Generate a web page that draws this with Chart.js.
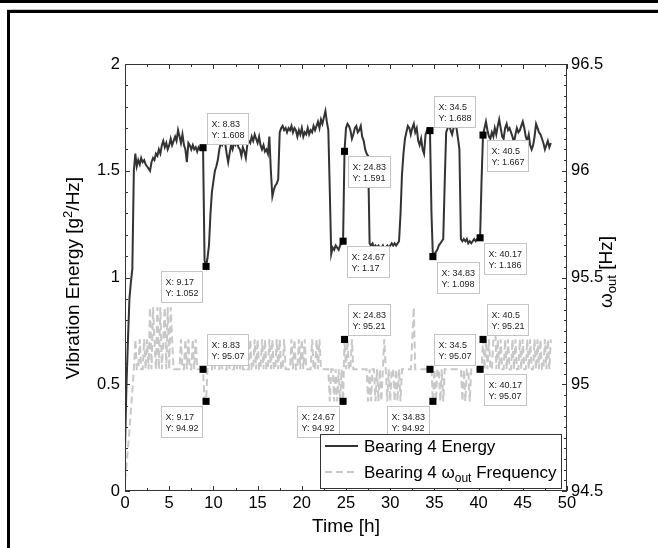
<!DOCTYPE html>
<html>
<head>
<meta charset="utf-8">
<script src="https://cdn.jsdelivr.net/npm/chart.js@4.4.1/dist/chart.umd.min.js"></script>
<style>
  html, body { margin: 0; padding: 0; background: #fff; }
  #wrap { position: relative; width: 658px; height: 548px; overflow: hidden; }
  #chart { position: absolute; left: 0; top: 0; }
  .frame { position: absolute; background: #000; }
</style>
</head>
<body>
<div id="wrap">
  <canvas id="chart" width="658" height="548"></canvas>
  <div class="frame" style="left:0;top:0;width:658px;height:3px"></div>
  <div class="frame" style="left:7px;top:9px;width:651px;height:1px;background:#c8c8c8"></div>
  <div class="frame" style="left:7px;top:10px;width:651px;height:3px"></div>
  <div class="frame" style="left:7px;top:10px;width:3px;height:538px"></div>
</div>
<script>
const FONT = "'Liberation Sans', Arial, sans-serif";

// Sample times [h], 10 minute logging
const timeH = [
  0, 0.17, 0.33, 0.5, 0.67, 0.83,
  1, 1.17, 1.33, 1.5, 1.67, 1.83,
  2, 2.17, 2.33, 2.5, 2.67, 2.83,
  3, 3.17, 3.33, 3.5, 3.67, 3.83,
  4, 4.17, 4.33, 4.5, 4.67, 4.83,
  5, 5.17, 5.33, 5.5, 5.67, 5.83,
  6, 6.17, 6.33, 6.5, 6.67, 6.83,
  7, 7.17, 7.33, 7.5, 7.67, 7.83,
  8, 8.17, 8.33, 8.5, 8.67, 8.83,
  9, 9.17, 9.33, 9.5, 9.67, 9.83,
  10, 10.17, 10.33, 10.5, 10.67, 10.83,
  11, 11.17, 11.33, 11.5, 11.67, 11.83,
  12, 12.17, 12.33, 12.5, 12.67, 12.83,
  13, 13.17, 13.33, 13.5, 13.67, 13.83,
  14, 14.17, 14.33, 14.5, 14.67, 14.83,
  15, 15.17, 15.33, 15.5, 15.67, 15.83,
  16, 16.17, 16.33, 16.5, 16.67, 16.83,
  17, 17.17, 17.33, 17.5, 17.67, 17.83,
  18, 18.17, 18.33, 18.5, 18.67, 18.83,
  19, 19.17, 19.33, 19.5, 19.67, 19.83,
  20, 20.17, 20.33, 20.5, 20.67, 20.83,
  21, 21.17, 21.33, 21.5, 21.67, 21.83,
  22, 22.17, 22.33, 22.5, 22.67, 22.83,
  23, 23.17, 23.33, 23.5, 23.67, 23.83,
  24, 24.17, 24.33, 24.5, 24.67, 24.83,
  25, 25.17, 25.33, 25.5, 25.67, 25.83,
  26, 26.17, 26.33, 26.5, 26.67, 26.83,
  27, 27.17, 27.33, 27.5, 27.67, 27.83,
  28, 28.17, 28.33, 28.5, 28.67, 28.83,
  29, 29.17, 29.33, 29.5, 29.67, 29.83,
  30, 30.17, 30.33, 30.5, 30.67, 30.83,
  31, 31.17, 31.33, 31.5, 31.67, 31.83,
  32, 32.17, 32.33, 32.5, 32.67, 32.83,
  33, 33.17, 33.33, 33.5, 33.67, 33.83,
  34, 34.17, 34.33, 34.5, 34.67, 34.83,
  35, 35.17, 35.33, 35.5, 35.67, 35.83,
  36, 36.17, 36.33, 36.5, 36.67, 36.83,
  37, 37.17, 37.33, 37.5, 37.67, 37.83,
  38, 38.17, 38.33, 38.5, 38.67, 38.83,
  39, 39.17, 39.33, 39.5, 39.67, 39.83,
  40, 40.17, 40.33, 40.5, 40.67, 40.83,
  41, 41.17, 41.33, 41.5, 41.67, 41.83,
  42, 42.17, 42.33, 42.5, 42.67, 42.83,
  43, 43.17, 43.33, 43.5, 43.67, 43.83,
  44, 44.17, 44.33, 44.5, 44.67, 44.83,
  45, 45.17, 45.33, 45.5, 45.67, 45.83,
  46, 46.17, 46.33, 46.5, 46.67, 46.83,
  47, 47.17, 47.33, 47.5, 47.67, 47.83,
  48, 48.17
];

// Bearing 4 vibration energy [g^2/Hz]
const energy = [
  0.20, 0.50, 0.70, 0.90, 0.98, 1.04,
  1.50, 1.58, 1.52, 1.55, 1.53, 1.56,
  1.54, 1.55, 1.53, 1.52, 1.51, 1.50,
  1.54, 1.56, 1.55, 1.58, 1.57, 1.60,
  1.58, 1.62, 1.64, 1.61, 1.63, 1.60,
  1.62, 1.65, 1.62, 1.64, 1.66, 1.64,
  1.69, 1.66, 1.63, 1.67, 1.62, 1.60,
  1.54, 1.63, 1.62, 1.60, 1.62, 1.60,
  1.61, 1.59, 1.61, 1.60, 1.61, 1.608,
  1.08, 1.052, 1.09, 1.15, 1.30, 1.40,
  1.45, 1.50, 1.52, 1.55, 1.60, 1.63,
  1.62, 1.64, 1.63, 1.58, 1.54, 1.58,
  1.62, 1.60, 1.63, 1.62, 1.64, 1.61,
  1.60, 1.57, 1.61, 1.59, 1.56, 1.62,
  1.64, 1.63, 1.66, 1.64, 1.67, 1.65,
  1.63, 1.66, 1.62, 1.60, 1.62, 1.59,
  1.60, 1.58, 1.66, 1.50, 1.38, 1.41,
  1.43, 1.44, 1.46, 1.68, 1.70, 1.71,
  1.69, 1.70, 1.68, 1.70, 1.69, 1.71,
  1.68, 1.70, 1.69, 1.66, 1.69, 1.67,
  1.70, 1.66, 1.68, 1.67, 1.70, 1.67,
  1.69, 1.68, 1.71, 1.69, 1.71, 1.73,
  1.70, 1.74, 1.72, 1.75, 1.78, 1.73,
  1.69, 1.40, 1.11, 1.14, 1.13, 1.15,
  1.14, 1.13, 1.15, 1.16, 1.17, 1.591,
  1.70, 1.72, 1.71, 1.69, 1.65, 1.67,
  1.70, 1.71, 1.68, 1.69, 1.71, 1.66,
  1.64, 1.60, 1.58, 1.57, 1.16, 1.15,
  1.16, 1.14, 1.15, 1.14, 1.15, 1.14,
  1.14, 1.15, 1.13, 1.14, 1.15, 1.14,
  1.15, 1.16, 1.15, 1.16, 1.15, 1.16,
  1.17, 1.30, 1.48, 1.58, 1.65, 1.68,
  1.71, 1.70, 1.67, 1.70, 1.72, 1.68,
  1.70, 1.64, 1.62, 1.65, 1.60, 1.58,
  1.67, 1.69, 1.68, 1.688, 1.30, 1.098,
  1.11, 1.12, 1.13, 1.15, 1.16, 1.17,
  1.18, 1.45, 1.68, 1.70, 1.72, 1.69,
  1.67, 1.70, 1.71, 1.70, 1.65, 1.60,
  1.18, 1.17, 1.18, 1.17, 1.18, 1.16,
  1.17, 1.16, 1.17, 1.18, 1.17, 1.18,
  1.18, 1.186, 1.45, 1.667, 1.70, 1.73,
  1.69, 1.66, 1.65, 1.68, 1.66, 1.70,
  1.67, 1.71, 1.74, 1.70, 1.66, 1.65,
  1.70, 1.72, 1.69, 1.70, 1.68, 1.66,
  1.63, 1.67, 1.70, 1.68, 1.69, 1.71,
  1.73, 1.70, 1.66, 1.64, 1.67, 1.62,
  1.60, 1.62, 1.66, 1.72, 1.70, 1.68,
  1.67, 1.65, 1.63, 1.60, 1.62, 1.64,
  1.61, 1.63
];

// Bearing 4 omega_out frequency [Hz]
const omegaOut = [
  94.55, 94.62, 94.70, 94.78, 94.88, 94.97,
  95.07, 95.21, 95.07, 95.07, 95.21, 95.07,
  95.07, 95.21, 95.07, 95.21, 95.07, 95.36,
  95.07, 95.36, 95.21, 95.07, 95.36, 95.07,
  95.36, 95.07, 95.21, 95.36, 95.07, 95.36,
  95.07, 95.36, 95.21, 95.07, 95.07, 95.07,
  95.07, 95.07, 95.21, 95.07, 95.07, 95.21,
  95.07, 95.21, 95.07, 95.07, 95.21, 95.07,
  95.21, 95.07, 95.07, 95.07, 95.07, 95.07,
  94.92, 94.92, 95.07, 95.21, 95.07, 95.07,
  95.21, 95.07, 95.21, 95.07, 95.07, 95.21,
  95.07, 95.21, 95.07, 95.07, 95.21, 95.07,
  95.21, 95.07, 95.07, 95.21, 95.07, 95.21,
  95.07, 95.21, 95.07, 95.07, 95.21, 95.07,
  95.07, 95.21, 95.07, 95.07, 95.21, 95.07,
  95.21, 95.07, 95.07, 95.21, 95.07, 95.21,
  95.07, 95.07, 95.21, 95.07, 95.21, 95.07,
  95.07, 95.21, 95.07, 95.21, 95.07, 95.07,
  95.21, 95.07, 95.07, 95.07, 95.07, 95.21,
  95.07, 95.21, 95.07, 95.07, 95.21, 95.07,
  95.21, 95.07, 95.21, 95.07, 95.07, 95.07,
  95.07, 95.21, 95.07, 95.07, 95.21, 95.07,
  95.21, 95.07, 95.07, 95.07, 95.07, 95.07,
  95.07, 94.92, 95.07, 95.07, 94.92, 95.07,
  94.92, 95.07, 94.92, 95.07, 94.92, 95.21,
  95.07, 95.21, 95.07, 95.07, 95.21, 95.07,
  95.07, 95.07, 95.07, 95.07, 95.07, 95.07,
  95.07, 95.07, 95.07, 94.92, 95.07, 94.92,
  95.07, 95.07, 94.92, 95.07, 94.92, 95.07,
  94.92, 95.07, 95.21, 95.07, 94.92, 95.07,
  94.92, 95.07, 95.07, 94.92, 95.07, 94.92,
  95.07, 94.92, 95.07, 95.07, 95.07, 95.07,
  95.07, 95.07, 95.07, 95.21, 95.36, 95.07,
  95.07, 95.07, 95.07, 95.07, 95.07, 95.07,
  95.07, 95.07, 95.07, 95.07, 95.07, 94.92,
  95.07, 94.92, 95.07, 95.07, 94.92, 95.07,
  94.92, 95.07, 95.07, 95.07, 95.07, 95.07,
  95.07, 95.07, 95.07, 95.07, 95.07, 95.07,
  95.07, 94.92, 95.07, 94.92, 95.07, 95.07,
  94.92, 95.07, 95.07, 95.07, 95.07, 95.07,
  95.07, 95.07, 95.07, 95.21, 95.07, 95.21,
  95.07, 95.21, 95.07, 95.07, 95.21, 95.36,
  95.07, 95.21, 95.07, 95.21, 95.07, 95.07,
  95.21, 95.07, 95.21, 95.07, 95.07, 95.21,
  95.07, 95.21, 95.07, 95.07, 95.21, 95.07,
  95.21, 95.07, 95.07, 95.21, 95.07, 95.21,
  95.07, 95.07, 95.21, 95.07, 95.21, 95.07,
  95.21, 95.07, 95.07, 95.21, 95.07, 95.21,
  95.07, 95.21
];

// Data tips
const energyTipX = [8.83, 9.17, 24.83, 24.67, 34.5, 34.83, 40.5, 40.17];
const energyTipY = [1.608, 1.052, 1.591, 1.17, 1.688, 1.098, 1.667, 1.186];
const energyTipSide = ['ne', 'sw', 'se', 'se', 'ne', 'se', 'se', 'se'];
const omegaTipX = [8.83, 9.17, 24.83, 24.67, 34.5, 34.83, 40.5, 40.17];
const omegaTipY = [95.07, 94.92, 95.21, 94.92, 95.07, 94.92, 95.21, 95.07];
const omegaTipSide = ['ne', 'sw', 'ne', 'sw', 'ne', 'sw', 'ne', 'se'];

// Tick values and labels
const timeTicks = [0, 5, 10, 15, 20, 25, 30, 35, 40, 45, 50];
const timeTickLabels = ['0', '5', '10', '15', '20', '25', '30', '35', '40', '45', '50'];
const energyTicks = [0, 0.5, 1, 1.5, 2];
const energyTickLabels = ['0', '0.5', '1', '1.5', '2'];
const omegaTicks = [94.5, 95, 95.5, 96, 96.5];
const omegaTickLabels = ['94.5', '95', '95.5', '96', '96.5'];

const ENERGY_COLOR = '#333333';
const OMEGA_COLOR = '#c8c8c8';
const OMEGA_DASH = [7, 4];

function richText(ctx, parts, x, y, align) {
  // parts: [text, size, dy]
  let total = 0;
  parts.forEach(p => { ctx.font = p[1] + 'px ' + FONT; total += ctx.measureText(p[0]).width; });
  let cx = align === 'center' ? x - total / 2 : x;
  parts.forEach(p => {
    ctx.font = p[1] + 'px ' + FONT;
    ctx.fillText(p[0], cx, y + (p[2] || 0));
    cx += ctx.measureText(p[0]).width;
  });
}

function tickMarks(ctx, scale, step, every, edge, dir, horizontal) {
  const n = Math.round((scale.max - scale.min) / step);
  for (let i = 0; i <= n; i++) {
    const v = scale.min + i * step;
    const len = i % every === 0 ? 5 : 3;
    const p = Math.round(scale.getPixelForValue(v)) + 0.5;
    if (horizontal) {
      ctx.moveTo(p, edge); ctx.lineTo(p, edge + dir * len);
    } else {
      ctx.moveTo(edge, p); ctx.lineTo(edge + dir * len, p);
    }
  }
}

function labelFrom(values, labels) {
  return v => {
    const i = values.findIndex(t => Math.abs(t - v) < 1e-9);
    return i < 0 ? '' : labels[i];
  };
}

const decor = {
  id: 'decor',
  afterDatasetsDraw(chart) {
    const { ctx, chartArea: a, scales } = chart;
    ctx.save();

    // axes box + inward ticks
    ctx.strokeStyle = '#333';
    ctx.lineWidth = 1;
    ctx.strokeRect(a.left + 0.5, a.top + 0.5, a.right - a.left - 1, a.bottom - a.top - 1);
    ctx.beginPath();
    tickMarks(ctx, scales.x, 2.5, 2, a.bottom, -1, true);
    tickMarks(ctx, scales.x, 2.5, 2, a.top, 1, true);
    tickMarks(ctx, scales.y, 0.1, 5, a.left, 1, false);
    tickMarks(ctx, scales.y2, 0.05, 10, a.right, -1, false);
    ctx.stroke();

    // data tip boxes
    const drawTip = (xv, yv, side, yScale) => {
      const px = scales.x.getPixelForValue(xv);
      const py = yScale.getPixelForValue(yv);
      const l1 = 'X: ' + xv, l2 = 'Y: ' + yv;
      ctx.font = '9px ' + FONT;
      const w = Math.round(Math.max(ctx.measureText(l1).width, ctx.measureText(l2).width)) + 8;
      const h = 31;
      const bx = Math.round(side[1] === 'e' ? px + 4 : px - 4 - w) + 0.5;
      const by = Math.round(side[0] === 'n' ? py - 4 - h : py + 5) + 0.5;
      ctx.fillStyle = '#fff';
      ctx.fillRect(bx, by, w, h);
      ctx.strokeStyle = '#c4c4c4';
      ctx.strokeRect(bx, by, w, h);
      ctx.fillStyle = '#222';
      ctx.textAlign = 'left';
      ctx.textBaseline = 'alphabetic';
      ctx.fillText(l1, bx + 4, by + 13);
      ctx.fillText(l2, bx + 4, by + 24);
    };
    energyTipX.forEach((x, i) => drawTip(x, energyTipY[i], energyTipSide[i], scales.y));
    omegaTipX.forEach((x, i) => drawTip(x, omegaTipY[i], omegaTipSide[i], scales.y2));

    // legend
    ctx.fillStyle = '#fff';
    ctx.fillRect(320, 434, 242, 54);
    ctx.strokeStyle = '#333';
    ctx.lineWidth = 1;
    ctx.strokeRect(320.5, 434.5, 241, 54);
    ctx.lineWidth = 2;
    ctx.strokeStyle = ENERGY_COLOR;
    ctx.beginPath(); ctx.moveTo(325, 446); ctx.lineTo(358, 446); ctx.stroke();
    ctx.strokeStyle = OMEGA_COLOR;
    ctx.setLineDash(OMEGA_DASH);
    ctx.beginPath(); ctx.moveTo(325, 472); ctx.lineTo(358, 472); ctx.stroke();
    ctx.setLineDash([]);
    ctx.fillStyle = '#000';
    ctx.textAlign = 'left';
    ctx.textBaseline = 'alphabetic';
    richText(ctx, [['Bearing 4 Energy', 17]], 364, 452);
    richText(ctx, [['Bearing 4 \u03c9', 17], ['out', 12, 4], [' Frequency', 17]], 364, 478);

    // axis titles
    richText(ctx, [['Time [h]', 19]], (a.left + a.right) / 2, 532, 'center');
    ctx.save();
    ctx.translate(79, 278);
    ctx.rotate(-Math.PI / 2);
    richText(ctx, [['Vibration Energy [g', 19], ['2', 13, -7], ['/Hz]', 19]], 0, 0, 'center');
    ctx.restore();
    ctx.save();
    ctx.translate(612, 272);
    ctx.rotate(-Math.PI / 2);
    richText(ctx, [['\u03c9', 19], ['out', 13, 4], [' [Hz]', 19]], 0, 0, 'center');
    ctx.restore();

    ctx.restore();
  }
};

const tickFont = { family: FONT, size: 16.5 };

new Chart(document.getElementById('chart'), {
  type: 'line',
  data: {
    datasets: [
      {
        type: 'scatter',
        data: energyTipX.map((x, i) => ({ x, y: energyTipY[i] })),
        yAxisID: 'y',
        pointStyle: 'rect',
        pointRadius: 5,
        backgroundColor: '#000',
        borderColor: '#000',
        borderWidth: 0,
        order: 0
      },
      {
        type: 'scatter',
        data: omegaTipX.map((x, i) => ({ x, y: omegaTipY[i] })),
        yAxisID: 'y2',
        pointStyle: 'rect',
        pointRadius: 5,
        backgroundColor: '#000',
        borderColor: '#000',
        borderWidth: 0,
        order: 0
      },
      {
        label: 'Bearing 4 Energy',
        data: timeH.map((t, i) => ({ x: t, y: energy[i] })),
        yAxisID: 'y',
        borderColor: ENERGY_COLOR,
        borderWidth: 2,
        pointRadius: 0,
        tension: 0,
        order: 1
      },
      {
        label: 'Bearing 4 omega_out Frequency',
        data: timeH.map((t, i) => ({ x: t, y: omegaOut[i] })),
        yAxisID: 'y2',
        borderColor: OMEGA_COLOR,
        borderDash: OMEGA_DASH,
        borderWidth: 2,
        pointRadius: 0,
        tension: 0,
        order: 2
      }
    ]
  },
  options: {
    responsive: false,
    animation: false,
    events: [],
    layout: { padding: { top: 64, left: 0, right: 0, bottom: 0 } },
    plugins: { legend: { display: false }, tooltip: { enabled: false } },
    scales: {
      x: {
        type: 'linear', min: 0, max: 50,
        afterBuildTicks: s => { s.ticks = timeTicks.map(v => ({ value: v })); },
        afterFit: s => { s.height = 57; },
        ticks: { font: tickFont, color: '#000', padding: 3, maxRotation: 0, autoSkip: false,
                 callback: labelFrom(timeTicks, timeTickLabels) },
        grid: { display: false, drawTicks: false },
        border: { display: false }
      },
      y: {
        position: 'left', min: 0, max: 2,
        afterBuildTicks: s => { s.ticks = energyTicks.map(v => ({ value: v })); },
        afterFit: s => { s.width = 125; },
        ticks: { font: tickFont, color: '#000', padding: 5, autoSkip: false,
                 callback: labelFrom(energyTicks, energyTickLabels) },
        grid: { display: false, drawTicks: false },
        border: { display: false }
      },
      y2: {
        position: 'right', min: 94.5, max: 96.5,
        afterBuildTicks: s => { s.ticks = omegaTicks.map(v => ({ value: v })); },
        afterFit: s => { s.width = 91; },
        ticks: { font: tickFont, color: '#000', padding: 4, autoSkip: false,
                 callback: labelFrom(omegaTicks, omegaTickLabels) },
        grid: { display: false, drawTicks: false },
        border: { display: false }
      }
    }
  },
  plugins: [decor]
});
</script>
</body>
</html>
